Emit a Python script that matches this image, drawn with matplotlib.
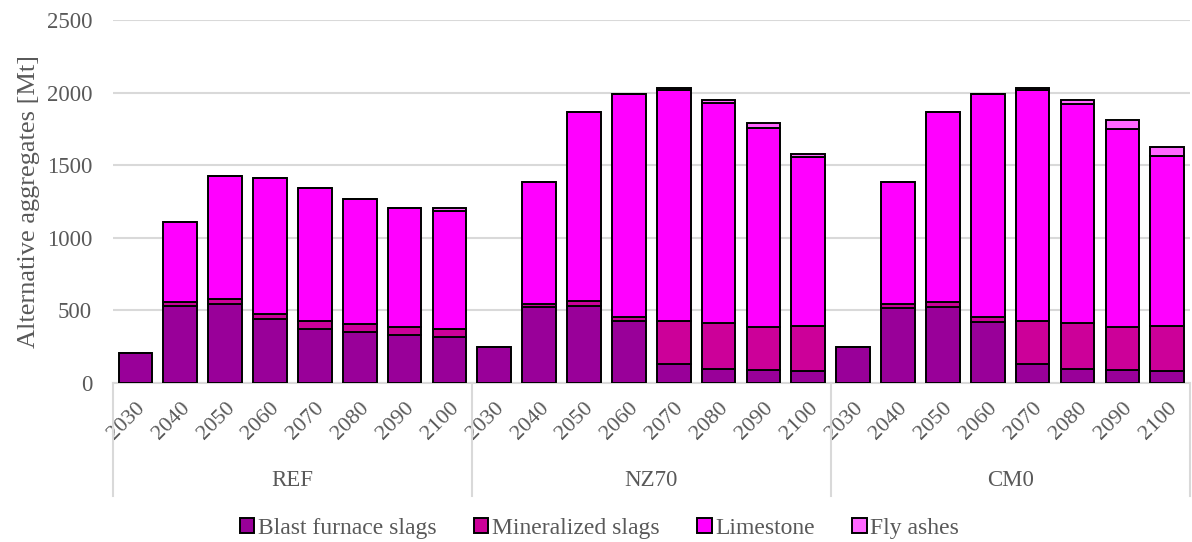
import matplotlib.pyplot as plt
import numpy as np
from matplotlib.patches import Patch

plt.rcParams["font.family"] = ["Liberation Serif", "DejaVu Serif"]

scenarios = ["REF", "NZ70", "CM0"]
years = ["2030", "2040", "2050", "2060", "2070", "2080", "2090", "2100"]

# values in Mt, per scenario
blast_furnace = [206, 527, 546, 442, 371, 353, 332, 314,
                 248, 523, 527, 424, 133, 98, 92, 80,
                 248, 518, 523, 420, 133, 98, 92, 85]
mineralized = [0, 28, 34, 30, 58, 55, 53, 60,
               0, 23, 37, 32, 296, 315, 295, 310,
               0, 28, 36, 36, 296, 313, 295, 307]
limestone = [0, 557, 848, 939, 913, 862, 823, 812,
             0, 837, 1303, 1532, 1589, 1516, 1372, 1165,
             0, 837, 1308, 1534, 1589, 1511, 1365, 1170]
fly_ashes = [0, 0, 0, 0, 0, 0, 0, 20,
             0, 0, 0, 0, 12, 20, 32, 23,
             0, 0, 0, 0, 14, 30, 62, 64]

series = [
    ("Blast furnace slags", blast_furnace, "#990099"),
    ("Mineralized slags", mineralized, "#CC0099"),
    ("Limestone", limestone, "#FF00FF"),
    ("Fly ashes", fly_ashes, "#FF66FF"),
]

text_col = "#595959"
grid_col = "#d9d9d9"

fig = plt.figure(figsize=(11.92, 5.42), dpi=100)
ax = fig.add_axes([0.0948, 0.2934, 0.9032, 0.6696])

x = np.arange(len(years) * len(scenarios))
bottom = np.zeros(len(x))
for name, vals, col in series:
    vals = np.array(vals, dtype=float)
    ax.bar(x, vals, 0.75, bottom=bottom, color=col, edgecolor="black",
           linewidth=1.4, label=name, zorder=3)
    bottom += vals

ax.set_xlim(-0.5, len(x) - 0.5)
ax.set_ylim(0, 2500)
ax.set_yticks(np.arange(0, 2501, 500))
ax.yaxis.grid(True, color=grid_col, linewidth=1.5, zorder=0)
ax.tick_params(axis="y", length=0, labelsize=16.5, colors=text_col, pad=15)
for s in ["top", "right", "left"]:
    ax.spines[s].set_visible(False)
ax.spines["bottom"].set_color(grid_col)
ax.spines["bottom"].set_linewidth(1.5)

ax.set_xticks(x)
ax.set_xticklabels(years * len(scenarios), rotation=45, ha="right",
                   rotation_mode="anchor", fontsize=16, color=text_col)
ax.tick_params(axis="x", length=0, pad=11)

ax.set_ylabel("Alternative aggregates [Mt]", fontsize=19, color=text_col, labelpad=5)

# group separators and scenario names
n = len(years)
for k in range(len(scenarios) + 1):
    xs = k * n - 0.5
    ax.plot([xs, xs], [0, -0.311], color=grid_col, linewidth=1.5,
            transform=ax.get_xaxis_transform(), clip_on=False)
for k, sc in enumerate(scenarios):
    ax.text(k * n + (n - 1) / 2, -0.27, sc, transform=ax.get_xaxis_transform(),
            ha="center", va="center", fontsize=16.5, color=text_col)

handles = [Patch(facecolor=col, edgecolor="black", linewidth=1.4, label=name)
           for name, _, col in series]
fig.legend(handles=handles, loc="center", bbox_to_anchor=(0.503, 0.025), ncol=4,
           frameon=False, fontsize=17, handlelength=0.6, handleheight=0.6,
           handletextpad=0.15, columnspacing=1.6, labelcolor=text_col)

fig.savefig("out.png", dpi=100)
